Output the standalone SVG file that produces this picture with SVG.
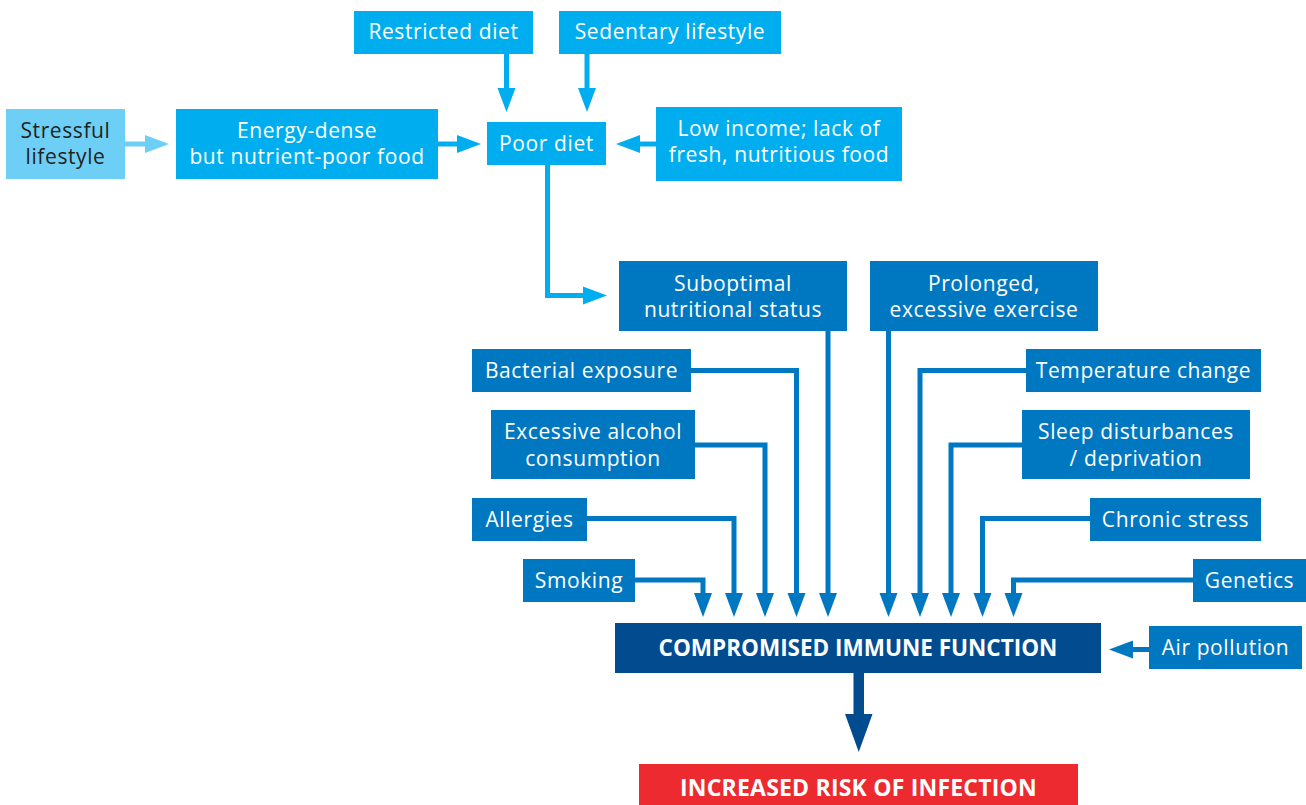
<svg xmlns="http://www.w3.org/2000/svg" width="1306" height="805" viewBox="0 0 1306 805">
<style>
.t{font-family:"Open Sans","Noto Sans","Liberation Sans",sans-serif;font-size:21px;letter-spacing:0.6px;fill:#fff;text-anchor:middle}
.dk{fill:#231f20}
.b{font-family:"Open Sans","Noto Sans","Liberation Sans",sans-serif;font-weight:bold;fill:#fff;text-anchor:middle}
.cy{fill:#00aeef}.lt{fill:#6dcff6}.md{fill:#0078c1}.dd{fill:#034b8f}.rd{fill:#ec2a2f}
.c{fill:none;stroke-width:5;stroke-linejoin:miter}
.ccy{stroke:#00aeef}.clt{stroke:#6dcff6}.cmd{stroke:#0078c1}
</style>
<defs>
<marker id="aCy" markerUnits="userSpaceOnUse" markerWidth="24" markerHeight="18" refX="0" refY="9" orient="auto" overflow="visible"><path d="M0,0 L24,9 L0,18 z" fill="#00aeef"/></marker>
<marker id="aLt" markerUnits="userSpaceOnUse" markerWidth="24" markerHeight="18" refX="0" refY="9" orient="auto" overflow="visible"><path d="M0,0 L24,9 L0,18 z" fill="#6dcff6"/></marker>
<marker id="aMd" markerUnits="userSpaceOnUse" markerWidth="24" markerHeight="18" refX="0" refY="9" orient="auto" overflow="visible"><path d="M0,0 L24,9 L0,18 z" fill="#0078c1"/></marker>
</defs>
<g id="connectors">
<path class="c clt" d="M125,144 H145" marker-end="url(#aLt)"/>
<path class="c ccy" d="M438,144 H457" marker-end="url(#aCy)"/>
<path class="c ccy" d="M506.5,54 V88" marker-end="url(#aCy)"/>
<path class="c ccy" d="M587,54 V88" marker-end="url(#aCy)"/>
<path class="c ccy" d="M656,144 H640" marker-end="url(#aCy)"/>
<path class="c ccy" d="M547.5,165 V295.5 H583" marker-end="url(#aCy)"/>
<path class="c cmd" d="M828,331 V593" marker-end="url(#aMd)"/>
<path class="c cmd" d="M691,370.5 H796.5 V593" marker-end="url(#aMd)"/>
<path class="c cmd" d="M695,445 H765 V593" marker-end="url(#aMd)"/>
<path class="c cmd" d="M587,518.5 H734 V593" marker-end="url(#aMd)"/>
<path class="c cmd" d="M635,580 H703 V593" marker-end="url(#aMd)"/>
<path class="c cmd" d="M888.5,331 V593" marker-end="url(#aMd)"/>
<path class="c cmd" d="M1026,370.5 H920 V593" marker-end="url(#aMd)"/>
<path class="c cmd" d="M1022,445 H951 V593" marker-end="url(#aMd)"/>
<path class="c cmd" d="M1090,518.5 H982.5 V593" marker-end="url(#aMd)"/>
<path class="c cmd" d="M1193,580 H1013.5 V593" marker-end="url(#aMd)"/>
<path class="c cmd" d="M1149,649.5 H1133" marker-end="url(#aMd)"/>
<path d="M853.5,672 H864 V714 H872.5 L858.75,752 L845,714 H853.5 Z" fill="#034b8f"/>
</g>
<g id="restricted"><rect class="cy" x="354" y="11" width="179" height="43"/><text class="t" x="443.5" y="39">Restricted diet</text></g>
<g id="sedentary"><rect class="cy" x="559" y="11" width="222" height="43"/><text class="t" x="670" y="39">Sedentary lifestyle</text></g>
<g id="stressful"><rect class="lt" x="6" y="109" width="119" height="70"/><text class="t dk" x="65.5" y="138">Stressful</text><text class="t dk" x="65.5" y="164">lifestyle</text></g>
<g id="energy"><rect class="cy" x="176" y="109" width="262" height="70"/><text class="t" x="307" y="138">Energy-dense</text><text class="t" x="307" y="164">but nutrient-poor food</text></g>
<g id="poordiet"><rect class="cy" x="487" y="122" width="119" height="43"/><text class="t" x="546.5" y="150.5">Poor diet</text></g>
<g id="lowincome"><rect class="cy" x="656" y="107" width="246" height="74"/><text class="t" x="779" y="136">Low income; lack of</text><text class="t" x="779" y="162">fresh, nutritious food</text></g>
<g id="suboptimal"><rect class="md" x="619" y="261" width="228" height="70"/><text class="t" x="733" y="290.5">Suboptimal</text><text class="t" x="733" y="317">nutritional status</text></g>
<g id="prolonged"><rect class="md" x="870" y="261" width="228" height="70"/><text class="t" x="984" y="290.5">Prolonged,</text><text class="t" x="984" y="317">excessive exercise</text></g>
<g id="bacterial"><rect class="md" x="472" y="349" width="219" height="43"/><text class="t" x="581.5" y="378">Bacterial exposure</text></g>
<g id="temperature"><rect class="md" x="1026" y="349" width="235" height="43"/><text class="t" x="1143.5" y="378">Temperature change</text></g>
<g id="alcohol"><rect class="md" x="491" y="410" width="204" height="69"/><text class="t" x="593" y="439">Excessive alcohol</text><text class="t" x="593" y="466">consumption</text></g>
<g id="sleep"><rect class="md" x="1022" y="410" width="228" height="69"/><text class="t" x="1136" y="439">Sleep disturbances</text><text class="t" x="1136" y="466">/ deprivation</text></g>
<g id="allergies"><rect class="md" x="472" y="498" width="115" height="43"/><text class="t" x="529.5" y="526.5">Allergies</text></g>
<g id="chronic"><rect class="md" x="1090" y="498" width="171" height="43"/><text class="t" x="1175.5" y="526.5">Chronic stress</text></g>
<g id="smoking"><rect class="md" x="523" y="559" width="112" height="43"/><text class="t" x="579" y="587.5">Smoking</text></g>
<g id="genetics"><rect class="md" x="1193" y="559" width="113" height="43"/><text class="t" x="1249.5" y="587.5">Genetics</text></g>
<g id="airpollution"><rect class="md" x="1149" y="626" width="153" height="43"/><text class="t" x="1225.5" y="654.5">Air pollution</text></g>
<g id="compromised"><rect class="dd" x="615" y="623" width="486" height="50"/><text class="b" x="858" y="656" font-size="22.5">COMPROMISED IMMUNE FUNCTION</text></g>
<g id="risk"><rect class="rd" x="639" y="764" width="439" height="41"/><text class="b" x="858.5" y="796" font-size="23" letter-spacing="0.2">INCREASED RISK OF INFECTION</text></g>
</svg>
